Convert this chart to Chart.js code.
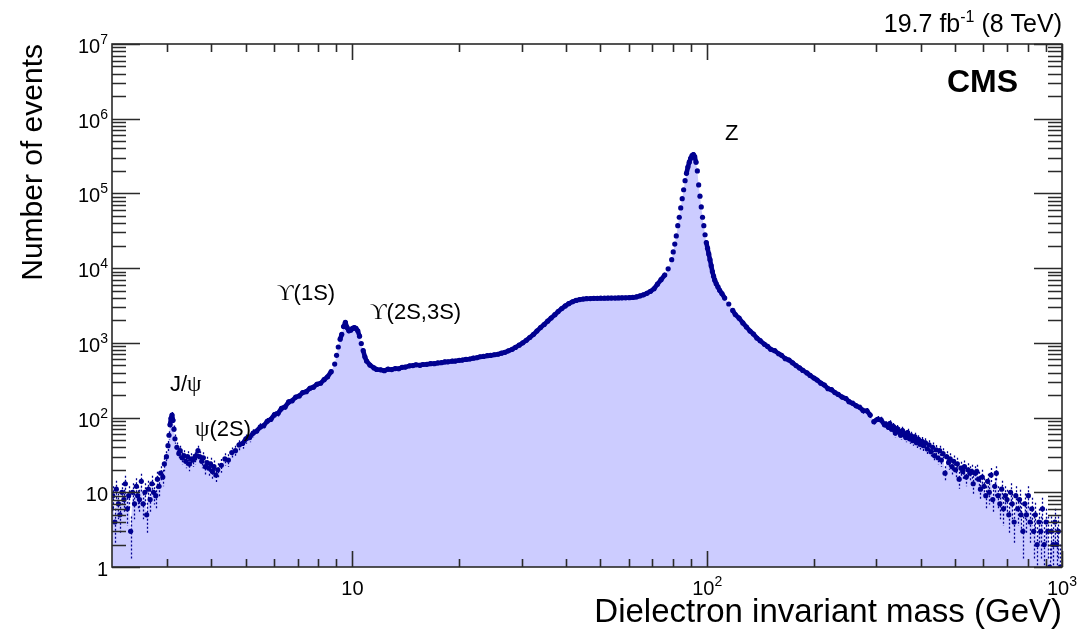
<!DOCTYPE html>
<html>
<head>
<meta charset="utf-8">
<title>Dielectron invariant mass</title>
<script src="https://cdn.jsdelivr.net/npm/chart.js@4.4.1/dist/chart.umd.min.js"></script>
<style>
    html, body { margin: 0; padding: 0; background: #ffffff; }
    #wrap { width: 1082px; height: 633px; }
</style>
</head>
<body>
<div id="wrap"><canvas id="massChart" width="1082" height="633"></canvas></div>
<script>
// 1. DATA (bin centre in GeV, events per bin)

// 2-4.2 GeV: low mass continuum, J/psi and psi(2S)
const massLow = [
    2.09, 2.11, 2.14, 2.16, 2.19, 2.21, 2.24, 2.27, 2.29, 2.32,
    2.34, 2.37, 2.40, 2.43, 2.46, 2.48, 2.51, 2.54, 2.57, 2.60,
    2.63, 2.66, 2.69, 2.72, 2.75, 2.79, 2.82, 2.85, 2.88, 2.92,
    2.95, 2.99, 3.02, 3.04, 3.06, 3.08, 3.10, 3.12, 3.14, 3.16,
    3.20, 3.24, 3.27, 3.31, 3.35, 3.39, 3.43, 3.47, 3.51, 3.55,
    3.59, 3.63, 3.67, 3.71, 3.76, 3.80, 3.85, 3.89, 3.94, 3.98,
    4.03, 4.07, 4.12, 4.17
];
const eventsLow = [
    6, 9, 4, 11, 7, 5, 10, 8, 13, 6,
    9, 3, 10, 7, 12, 9, 8, 14, 7, 10,
    5, 11, 8, 13, 10, 9, 15, 12, 18, 16,
    24, 30, 42, 58, 80, 98, 108, 92, 70, 52,
    40, 33, 36, 29, 31, 26, 30, 24, 28, 27,
    29, 31, 36, 30, 26, 29, 22, 25, 21, 24,
    19, 22, 17, 20
];

// 4.2-8.9 GeV: rising continuum
const massRise = [
    4.27, 4.37, 4.47, 4.57, 4.68, 4.79, 4.90, 5.01, 5.13, 5.25,
    5.37, 5.50, 5.62, 5.75, 5.89, 6.03, 6.17, 6.31, 6.46, 6.61,
    6.76, 6.92, 7.08, 7.24, 7.41, 7.59, 7.76, 7.94, 8.13, 8.32,
    8.51, 8.71, 8.91
];
const eventsRise = [
    23, 28, 27, 34, 36, 43, 45, 52, 54, 62,
    66, 75, 78, 89, 95, 110, 114, 133, 139, 162,
    168, 188, 195, 216, 222, 247, 255, 279, 288, 322,
    352, 412, 520
];

// 9-11 GeV: Upsilon(1S) and Upsilon(2S,3S)
const massUpsilon = [
    9.02, 9.12, 9.23, 9.33, 9.44, 9.55, 9.66, 9.77, 9.89, 10.0,
    10.12, 10.23, 10.35, 10.47, 10.59, 10.72, 10.84, 10.96
];
const eventsUpsilon = [
    680, 880, 1120, 1300, 1650, 1880, 1600, 1450, 1480, 1560,
    1600, 1560, 1450, 1230, 980, 790, 650, 570
];

// 11-80 GeV: Drell-Yan continuum and the shoulder near 45 GeV
const massDrellYan = [
    11.2, 11.5, 11.7, 12.0, 12.3, 12.6, 12.9, 13.2, 13.5, 13.8,
    14.1, 14.5, 14.8, 15.1, 15.5, 15.8, 16.2, 16.6, 17.0, 17.4,
    17.8, 18.2, 18.6, 19.1, 19.5, 20.0, 20.4, 20.9, 21.4, 21.9,
    22.4, 22.9, 23.4, 24.0, 24.5, 25.1, 25.7, 26.3, 26.9, 27.5,
    28.2, 28.8, 29.5, 30.2, 30.9, 31.6, 32.4, 33.1, 33.9, 34.7,
    35.5, 36.3, 37.2, 38.0, 38.9, 39.8, 40.7, 41.7, 42.7, 43.7,
    44.7, 45.7, 46.8, 47.9, 49.0, 50.1, 51.3, 52.5, 53.7, 55.0,
    56.2, 57.5, 58.9, 60.3, 61.7, 63.1, 64.6, 66.1, 67.6, 69.2,
    70.8, 72.4, 74.1, 75.9, 77.6, 79.4
];
const eventsDrellYan = [
    505, 462, 441, 436, 424, 444, 439, 452, 450, 471,
    474, 493, 497, 509, 501, 513, 516, 527, 526, 538,
    543, 556, 557, 569, 570, 584, 588, 601, 608, 624,
    632, 652, 658, 673, 679, 693, 704, 727, 748, 782,
    820, 870, 930, 1000, 1080, 1180, 1300, 1440, 1600, 1760,
    1950, 2150, 2380, 2620, 2880, 3120, 3350, 3550, 3700, 3800,
    3860, 3900, 3920, 3940, 3950, 3960, 3960, 3970, 3980, 3980,
    3990, 4000, 4010, 4030, 4060, 4120, 4250, 4400, 4600, 4900,
    5300, 6100, 7000, 8100, 9800, 13000
];

// 80-108 GeV: Z peak
const massZ = [
    80.2, 81.0, 81.8, 82.6, 83.4, 84.2, 85.0, 85.8, 86.6, 87.4,
    88.2, 89.0, 89.8, 90.6, 91.4, 92.2, 93.0, 93.8, 94.6, 95.4,
    96.2, 97.0, 97.8, 98.6, 99.4, 100.2, 101.0, 101.8, 102.6, 103.4,
    104.2, 105.0, 106.0, 107.2, 108.4
];
const eventsZ = [
    16500, 21000, 27000, 37000, 48000, 64000, 85000, 112000, 148000, 186000,
    225000, 262000, 295000, 320000, 332000, 310000, 262000, 200000, 130000, 92000,
    66000, 48000, 37000, 28000, 22000, 18500, 15500, 13000, 10800, 9000,
    7800, 6900, 6200, 5600, 5050
];

// 110-316 GeV: falling tail
const massTail = [
    110, 112, 115, 118, 120, 123, 126, 129, 132, 135,
    138, 141, 145, 148, 151, 155, 159, 162, 166, 170,
    174, 178, 182, 186, 191, 195, 200, 204, 209, 214,
    219, 224, 229, 234, 240, 246, 251, 257, 263, 269,
    275, 282, 288, 295, 302, 309, 316
];
const eventsTail = [
    4570, 3980, 3310, 2720, 2390, 2140, 1850, 1630, 1440, 1310,
    1160, 1070, 955, 895, 820, 785, 715, 680, 615, 590,
    540, 497, 462, 428, 396, 366, 338, 318, 289, 272,
    244, 236, 216, 204, 188, 180, 163, 155, 144, 137,
    124, 123, 108, 88, 95, 93, 80
];

// 320-1000 GeV: high mass, few events per bin
const massHigh = [
    320, 324, 327, 331, 335, 339, 343, 347, 351, 355,
    359, 363, 367, 372, 376, 380, 385, 389, 394, 398,
    403, 407, 412, 417, 422, 427, 432, 437, 442, 447,
    452, 457, 462, 468, 473, 479, 484, 490, 495, 501,
    507, 513, 519, 525, 531, 537, 543, 550, 556, 562,
    569, 575, 582, 589, 596, 603, 610, 617, 624, 631,
    638, 646, 653, 661, 668, 676, 684, 692, 700, 708,
    716, 724, 733, 741, 750, 759, 767, 776, 785, 794,
    804, 813, 822, 832, 841, 851, 861, 871, 881, 891,
    902, 912, 923, 933, 944, 955, 966, 977, 989
];
const eventsHigh = [
    80, 74, 83, 70, 76, 62, 71, 66, 58, 67,
    60, 54, 63, 52, 57, 49, 55, 46, 51, 44,
    48, 42, 46, 38, 43, 35, 40, 31, 37, 29,
    36, 27, 33, 18, 30, 25, 28, 22, 26, 20,
    24, 15, 21, 19, 22, 16, 20, 18, 19, 13,
    18, 19, 15, 11, 16, 12, 9, 14, 10, 17,
    8, 12, 18, 9, 7, 11, 6, 9, 8, 5,
    10, 7, 4, 9, 6, 8, 5, 3, 7, 5,
    9, 4, 6, 3, 5, 2, 4, 3, 6, 2,
    4, 3, 1, 3, 2, 4, 2, 3, 1
];

// Axis ranges and tick labels
const xMin = 2.1, xMax = 1000;
const yMin = 1, yMax = 1e7;
const xMajorTicks = [10, 100, 1000];
const xTickLabels = ['10', '10^2', '10^3'];
const yMajorTicks = [1, 10, 100, 1e3, 1e4, 1e5, 1e6, 1e7];
const yTickLabels = ['1', '10', '10^2', '10^3', '10^4', '10^5', '10^6', '10^7'];

const massGeV = [].concat(massLow, massRise, massUpsilon, massDrellYan, massZ, massTail, massHigh);
const events = [].concat(eventsLow, eventsRise, eventsUpsilon, eventsDrellYan, eventsZ, eventsTail, eventsHigh);
if (massGeV.length !== events.length) {
    console.warn('mass / events length mismatch', massGeV.length, events.length);
}
const points = massGeV.map((m, i) => ({ x: m, y: events[i] }));

// 2. STYLE
const SANS = '"Liberation Sans", Arial, Helvetica, sans-serif';
const SERIF = '"Liberation Serif", "DejaVu Serif", "Times New Roman", serif';
const MARKER_COLOR = '#000090';
const FILL_COLOR = '#ccccff';
const AXIS_COLOR = '#2a2a2a';

// draw a list of text runs (font, vertical offset) as one line
function drawRuns(ctx, runs, x, y, align) {
    let total = 0;
    runs.forEach(r => { ctx.font = r.font; total += ctx.measureText(r.text).width; });
    let cx = align === 'right' ? x - total : align === 'center' ? x - total / 2 : x;
    runs.forEach(r => {
        ctx.font = r.font;
        ctx.fillText(r.text, cx, y + (r.dy || 0));
        cx += ctx.measureText(r.text).width;
    });
}

// "10^3" -> base plus superscript
function tickRuns(label) {
    const parts = label.split('^');
    const runs = [{ text: parts[0], font: '20px ' + SANS }];
    if (parts[1]) runs.push({ text: parts[1], font: '14px ' + SANS, dy: -9 });
    return runs;
}

// 3. PLUGINS
// dotted Poisson error bars under the markers, and a solid join where
// neighbouring markers sit close together so the dense part reads as a band
const errorBars = {
    id: 'errorBars',
    beforeDatasetDraw(chart, args) {
        if (args.index !== 0) return;
        const { ctx, chartArea: area, scales } = chart;
        const px = massGeV.map(m => scales.x.getPixelForValue(m));
        const py = events.map(n => scales.y.getPixelForValue(n));
        ctx.save();
        ctx.beginPath();
        ctx.rect(area.left, area.top, area.right - area.left, area.bottom - area.top);
        ctx.clip();
        ctx.strokeStyle = MARKER_COLOR;

        ctx.lineWidth = 1.3;
        ctx.setLineDash([2, 2]);
        ctx.beginPath();
        events.forEach((n, i) => {
            const err = Math.sqrt(n);
            const x = Math.round(px[i]) + 0.5;
            const top = scales.y.getPixelForValue(n + err);
            const bottom = n - err > 0 ? scales.y.getPixelForValue(n - err) : area.bottom;
            ctx.moveTo(x, top);
            ctx.lineTo(x, bottom);
        });
        ctx.stroke();

        ctx.setLineDash([]);
        ctx.lineWidth = 4.6;
        ctx.lineCap = 'round';
        ctx.lineJoin = 'round';
        ctx.beginPath();
        for (let i = 1; i < events.length; i++) {
            const near = Math.hypot(px[i] - px[i - 1], py[i] - py[i - 1]) < 7;
            const busy = events[i] >= 40 && events[i - 1] >= 40;
            if (near && busy) {
                ctx.moveTo(px[i - 1], py[i - 1]);
                ctx.lineTo(px[i], py[i]);
            }
        }
        ctx.stroke();
        ctx.restore();
    }
};

// frame with inward ticks on all four sides, labels and annotations
const frameAndLabels = {
    id: 'frameAndLabels',
    afterDraw(chart) {
        const { ctx, chartArea: a, scales: { x, y } } = chart;
        ctx.save();
        ctx.strokeStyle = AXIS_COLOR;
        ctx.lineWidth = 1.6;
        ctx.strokeRect(a.left, a.top, a.right - a.left, a.bottom - a.top);

        ctx.beginPath();
        const tickY = (v, len) => {
            const py = Math.round(y.getPixelForValue(v)) + 0.5;
            ctx.moveTo(a.left, py); ctx.lineTo(a.left + len, py);
            ctx.moveTo(a.right, py); ctx.lineTo(a.right - len, py);
        };
        const tickX = (v, len) => {
            const px = Math.round(x.getPixelForValue(v)) + 0.5;
            ctx.moveTo(px, a.bottom); ctx.lineTo(px, a.bottom - len);
            ctx.moveTo(px, a.top); ctx.lineTo(px, a.top + len);
        };
        yMajorTicks.forEach((v, i) => {
            tickY(v, 28);
            if (i < yMajorTicks.length - 1) {
                for (let k = 2; k <= 9; k++) tickY(v * k, 14);
            }
        });
        [1, 10, 100].forEach(d => {
            for (let k = 2; k <= 9; k++) {
                if (d * k > xMin && d * k < xMax) tickX(d * k, 8);
            }
        });
        xMajorTicks.forEach(v => tickX(v, 16));
        ctx.stroke();

        // tick labels
        ctx.fillStyle = '#000';
        ctx.textBaseline = 'alphabetic';
        yMajorTicks.forEach((v, i) => {
            drawRuns(ctx, tickRuns(yTickLabels[i]), a.left - 4, y.getPixelForValue(v) + 9, 'right');
        });
        xMajorTicks.forEach((v, i) => {
            drawRuns(ctx, tickRuns(xTickLabels[i]), x.getPixelForValue(v), a.bottom + 28, 'center');
        });

        // axis titles
        ctx.font = '33px ' + SANS;
        ctx.textAlign = 'right';
        ctx.fillText('Dielectron invariant mass (GeV)', a.right, 622);
        ctx.save();
        ctx.translate(42, a.top);
        ctx.rotate(-Math.PI / 2);
        ctx.font = '30px ' + SANS;
        ctx.fillText('Number of events', 0, 0);
        ctx.restore();
        ctx.textAlign = 'left';

        // luminosity and experiment
        drawRuns(ctx, [
            { text: '19.7 fb', font: '25px ' + SANS },
            { text: '-1', font: '16px ' + SANS, dy: -10 },
            { text: ' (8 TeV)', font: '25px ' + SANS }
        ], a.right, 32, 'right');
        drawRuns(ctx, [{ text: 'CMS', font: 'bold 32px ' + SANS }], 947, 92, 'left');

        // resonance names
        const f = '22px ' + SANS, g = '23px ' + SERIF;
        drawRuns(ctx, [{ text: 'Z', font: f }], 725, 140, 'left');
        drawRuns(ctx, [{ text: 'ϒ', font: g }, { text: '(1S)', font: f }], 277, 300, 'left');
        drawRuns(ctx, [{ text: 'ϒ', font: g }, { text: '(2S,3S)', font: f }], 370, 319, 'left');
        drawRuns(ctx, [{ text: 'J/', font: f }, { text: 'ψ', font: g }], 170, 391, 'left');
        drawRuns(ctx, [{ text: 'ψ', font: g }, { text: '(2S)', font: f }], 195, 436, 'left');
        ctx.restore();
    }
};

// 4. CHART
const chart = new Chart(document.getElementById('massChart'), {
    type: 'scatter',
    data: {
        datasets: [
            {
                label: 'Data',
                data: points,
                order: 1,
                showLine: false,
                pointRadius: 2.6,
                pointBorderWidth: 0,
                pointBackgroundColor: MARKER_COLOR,
                pointHoverRadius: 2.6
            },
            {
                label: 'Area',
                data: points,
                order: 2,
                showLine: true,
                fill: 'start',
                backgroundColor: FILL_COLOR,
                borderColor: 'rgba(0,0,0,0)',
                borderWidth: 0,
                pointRadius: 0
            }
        ]
    },
    options: {
        responsive: false,
        animation: false,
        devicePixelRatio: 1,
        events: [],
        layout: { padding: { left: 112, top: 44, right: 20, bottom: 66 } },
        plugins: {
            legend: { display: false },
            tooltip: { enabled: false }
        },
        scales: {
            x: { type: 'logarithmic', min: xMin, max: xMax, display: false },
            y: { type: 'logarithmic', min: yMin, max: yMax, display: false }
        }
    },
    plugins: [errorBars, frameAndLabels]
});
</script>
</body>
</html>
